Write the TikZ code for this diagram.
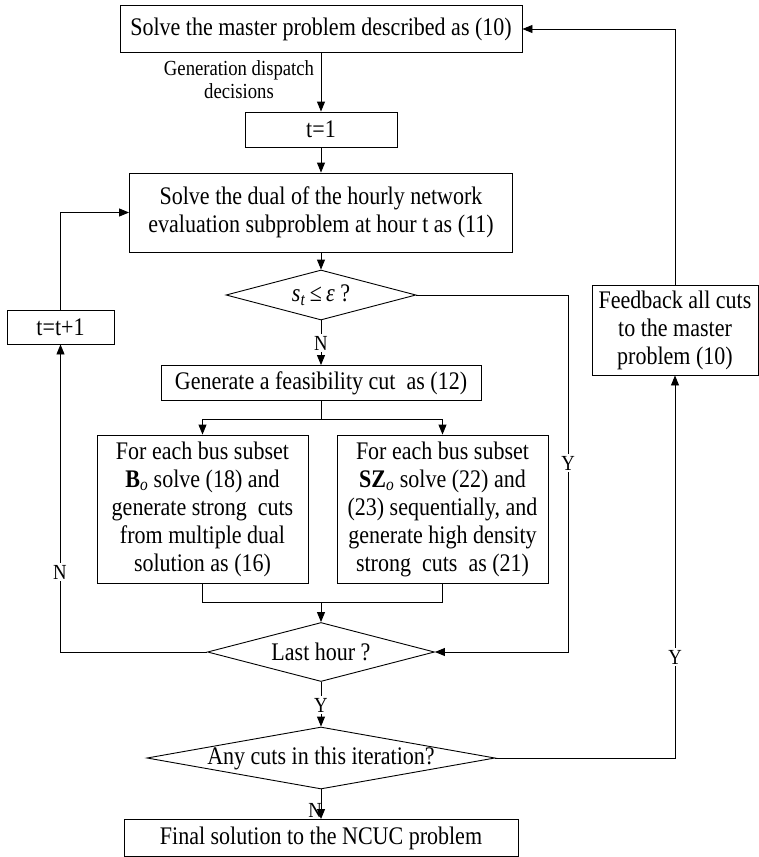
\documentclass[tikz,border=0pt]{standalone}
\usepackage{fontspec}
\setmainfont{Liberation Serif}[FakeStretch=0.87]
\usetikzlibrary{shapes.geometric,arrows.meta}
\begin{document}
\begin{tikzpicture}[x=1pt,y=-1pt,
  every node/.style={font=\fontsize{25.3}{28}\selectfont, inner sep=0pt},
  box/.style={draw, line width=0.9pt, align=center},
  dia/.style={draw, diamond, line width=0.9pt, inner sep=0pt},
  conn/.style={line width=0.9pt},
  arr/.style={conn, -{Triangle[length=10pt,width=8pt]}},
  lbl/.style={font=\fontsize{21.5}{23}\selectfont, fill=white, inner sep=1.5pt},
  smalltxt/.style={font=\fontsize{21.5}{23}\selectfont, align=center}]
\useasboundingbox (0,0) rectangle (759,857);

% boxes
\node[box, minimum width=402pt, minimum height=47pt] (master) at (321,29) {Solve the master problem described as (10)};
\node[smalltxt] (gdd) at (239,80) {Generation dispatch\\decisions};
\node[box, minimum width=152pt, minimum height=35pt] (t1) at (321,129.5) {t=1};
\node[box, minimum width=383pt, minimum height=79pt] (dual) at (321,212.5) {Solve the dual of the hourly network\\evaluation subproblem at hour t as (11)};
\node[dia, minimum width=190pt, minimum height=50pt] (st) at (321,295) {};
\node (sttxt) at (321,295) {\textit{s}\textsubscript{\textit{t}}\,≤\,\textit{ε} ?};
\node[box, minimum width=320pt, minimum height=35pt] (gen) at (321,383) {Generate a feasibility cut~ as (12)};
\node[box, minimum width=211pt, minimum height=148pt] (B) at (202.5,509) {For each bus subset\\\textbf{B}\textsubscript{\textit{o}} solve (18) and\\generate strong~ cuts\\from multiple dual\\solution as (16)};
\node[box, minimum width=211pt, minimum height=148pt] (SZ) at (442.5,509) {For each bus subset\\\textbf{SZ}\textsubscript{\textit{o}} solve (22) and\\(23) sequentially, and\\generate high density\\strong~ cuts~ as (21)};
\node[dia, minimum width=227pt, minimum height=59pt] (last) at (321,652) {};
\node (lasttxt) at (321,652) {Last hour ?};
\node[dia, minimum width=348pt, minimum height=62pt] (any) at (321,758) {};
\node (anytxt) at (321,758) {Any cuts in this iteration?};
\node[box, minimum width=394pt, minimum height=37pt] (final) at (321,838) {Final solution to the NCUC problem};
\node[box, minimum width=107pt, minimum height=34pt] (tt1) at (60.5,327) {t=t+1};
\node[box, minimum width=166pt, minimum height=90pt] (fb) at (675,330) {Feedback all cuts\\to the master\\problem (10)};

% helper coordinates
\coordinate (split) at (321,419);
\coordinate (join) at (321,602);
\coordinate (ycol) at (568,295);

% connectors
\draw[arr] (master.south) -- (t1.north);
\draw[arr] (t1.south) -- (dual.north);
\draw[arr] (dual.south) -- (st.north);
\draw[arr] (st.south) -- (gen.north);
\draw[conn] (gen.south) -- (split);
\draw[arr] (split) -| (B.north);
\draw[arr] (split) -| (SZ.north);
\draw[conn] (B.south) |- (join);
\draw[conn] (SZ.south) |- (join);
\draw[arr] (join) -- (last.north);
\draw[arr] (last.south) -- (any.north);
\draw[arr] (any.south) -- (final.north);
\draw[arr] (last.west) -| (tt1.south);
\draw[arr] (tt1.north) |- (dual.west);
\draw[arr] (st.east) -- (ycol) |- (last.east);
\draw[arr] (any.east) -| (fb.south);
\draw[arr] (fb.north) |- (master.east);

% branch labels
\node[lbl] (n1) at (321,343) {N};
\node[lbl] (y1) at (568,463) {Y};
\node[lbl] (n2) at (60,572) {N};
\node[lbl] (y2) at (321,705) {Y};
\node[lbl] (y3) at (675,657) {Y};
\node[font=\fontsize{21.5}{23}\selectfont, anchor=east] (n3) at (322,810) {N};
\end{tikzpicture}
\end{document}
